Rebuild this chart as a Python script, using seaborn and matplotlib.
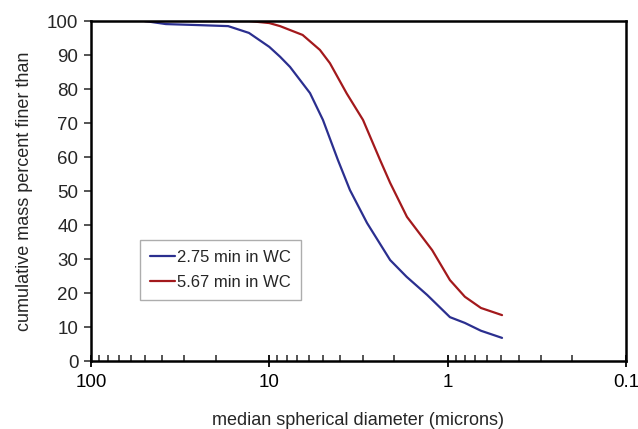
import numpy as np
import pandas as pd
import matplotlib
matplotlib.use('Agg')
import matplotlib.pyplot as plt
import matplotlib.ticker as mticker
import seaborn as sns

# values
diam_a = [50, 38, 25, 17, 13, 10, 8.7, 7.65, 5.91, 5.0, 4.12, 3.53, 2.83, 2.1, 1.7, 1.3, 0.97, 0.8, 0.65, 0.495]
finer_a = [100, 99.1, 98.8, 98.5, 96.5, 92.4, 89.5, 86.5, 78.8, 70.9, 59.1, 50.3, 40.6, 29.7, 24.8, 19.4, 12.9, 11.2, 8.9, 6.8]

diam_b = [50, 25, 13, 10, 8.7, 6.5, 5.2, 4.57, 3.68, 2.98, 2.39, 2.1, 1.69, 1.22, 0.97, 0.8, 0.65, 0.495]
finer_b = [100, 100, 100, 99.4, 98.5, 95.9, 91.5, 87.6, 78.7, 70.9, 59.1, 52.4, 42.4, 32.6, 23.8, 18.9, 15.6, 13.5]

series_names = ['2.75 min in WC', '5.67 min in WC']
colors = ['#2b2f8f', '#a3191c']

df = pd.concat([
    pd.DataFrame({'d': diam_a, 'pct': finer_a, 'run': series_names[0]}),
    pd.DataFrame({'d': diam_b, 'pct': finer_b, 'run': series_names[1]}),
])

sns.set_style('ticks')
plt.rcParams['font.family'] = ['Liberation Sans', 'DejaVu Sans']

fig = plt.figure(figsize=(6.38, 4.29), dpi=100)
ax = fig.add_axes([0.1426, 0.1585, 0.8384, 0.7925])

sns.lineplot(data=df, x='d', y='pct', hue='run', palette=colors, linewidth=1.6,
             estimator=None, sort=False, ax=ax)

ax.set_xscale('log')
ax.set_xlim(100, 0.1)
ax.set_ylim(0, 100)
ax.set_yticks(range(0, 101, 10))
ax.xaxis.set_major_locator(mticker.FixedLocator([100, 10, 1, 0.1]))
ax.xaxis.set_major_formatter(mticker.FuncFormatter(lambda v, p: f'{v:g}'))
ax.xaxis.set_minor_locator(mticker.LogLocator(base=10, subs=np.arange(2, 10)))
ax.xaxis.set_minor_formatter(mticker.NullFormatter())

ax.tick_params(axis='x', which='major', direction='inout', length=9, width=1.3,
               labelsize=13.5, pad=5, colors='black')
ax.tick_params(axis='x', which='minor', direction='in', length=4, width=1.1)
ax.tick_params(axis='y', which='major', direction='out', length=5, width=1.1,
               labelsize=13.5, pad=4)

for side in ['left', 'right', 'top', 'bottom']:
    ax.spines[side].set_visible(True)
    ax.spines[side].set_color('black')
    ax.spines[side].set_linewidth(1.8)

ax.set_xlabel('median spherical diameter (microns)', fontsize=13, labelpad=15)
ax.set_ylabel('cumulative mass percent finer than', fontsize=13, labelpad=10)

handles, labels = ax.get_legend_handles_labels()
ax.legend(handles, labels, loc='upper left', bbox_to_anchor=(0.077, 0.38),
          frameon=True, fancybox=False, edgecolor='#999999', fontsize=12,
          handlelength=1.5, handletextpad=0.1, borderpad=0.6, labelspacing=0.6)

fig.savefig('out.png', dpi=100)
